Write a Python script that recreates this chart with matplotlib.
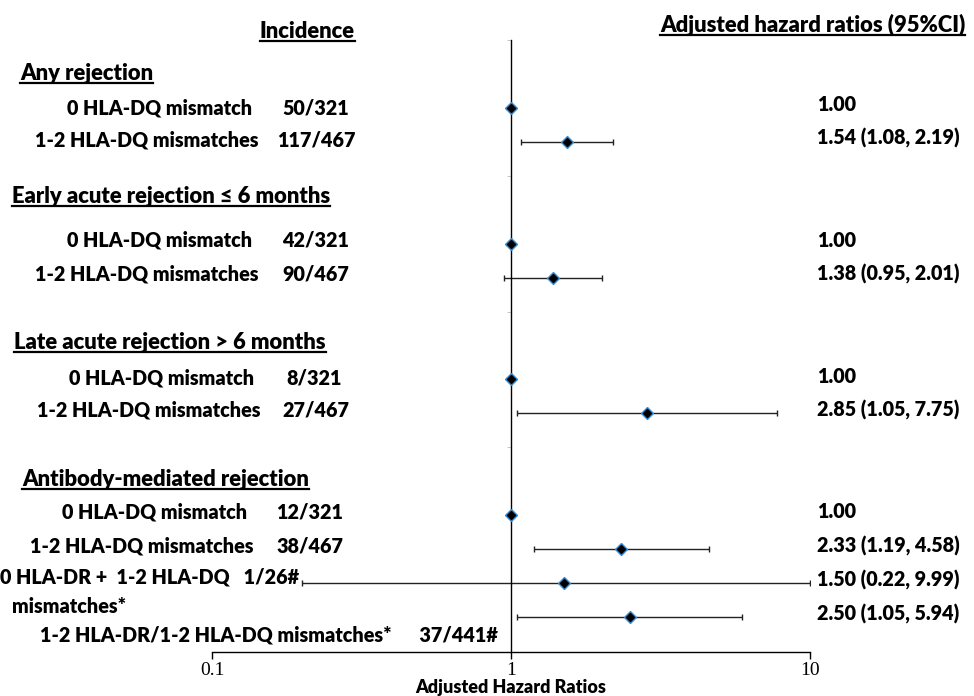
import matplotlib
matplotlib.use("Agg")
import matplotlib.pyplot as plt
import matplotlib.transforms as mtransforms
from matplotlib.lines import Line2D

W, H = 974, 696

# groups and rows of the forest plot
sections = ["Any rejection",
            "Early acute rejection \u2264 6 months",
            "Late acute rejection > 6 months",
            "Antibody-mediated rejection"]
section_rows = [-1.0, 2.6, 6.9, 10.95]

rows = [0, 1, 4, 5, 8, 9, 12, 13, 14, 15]
labels = ["0 HLA-DQ mismatch", "1-2 HLA-DQ mismatches",
          "0 HLA-DQ mismatch", "1-2 HLA-DQ mismatches",
          "0 HLA-DQ mismatch", "1-2 HLA-DQ mismatches",
          "0 HLA-DQ mismatch", "1-2 HLA-DQ mismatches",
          "0 HLA-DR +  1-2 HLA-DQ   1/26#\nmismatches*",
          "1-2 HLA-DR/1-2 HLA-DQ mismatches*      37/441#"]
incidence = ["50/321", "117/467", "42/321", "90/467", "8/321", "27/467",
             "12/321", "38/467", "", ""]
hr = [1.00, 1.54, 1.00, 1.38, 1.00, 2.85, 1.00, 2.33, 1.50, 2.50]
ci_lo = [1.00, 1.08, 1.00, 0.95, 1.00, 1.05, 1.00, 1.19, 0.20, 1.05]
ci_hi = [1.00, 2.19, 1.00, 2.01, 1.00, 7.75, 1.00, 4.58, 9.99, 5.94]
hr_text = ["1.00", "1.54 (1.08, 2.19)", "1.00", "1.38 (0.95, 2.01)",
           "1.00", "2.85 (1.05, 7.75)", "1.00", "2.33 (1.19, 4.58)",
           "1.50 (0.22, 9.99)", "2.50 (1.05, 5.94)"]

# text layout (left x in px, vertical offset in rows)
label_x = [67, 35, 67, 35, 69, 37, 62, 30, 0, 40]
label_dy = [0, -0.05, -0.1, -0.12, -0.05, -0.1, -0.1, -0.1, 0.25, 0.53]
inc_x = [316, 316, 316, 316, 314, 316, 310, 310, 310, 310]
section_x = [20, 12, 14, 22]

SANS = "Lato"
WEIGHT = "heavy"
fig = plt.figure(figsize=(W / 100, H / 100), dpi=100)
ax = fig.add_axes([212 / W, 44 / H, 598 / W, 612 / H])

ax.set_xscale("log")
ax.set_xlim(0.1, 10)
ax.set_ylim(16.03, -1.97)

err = [[h - l for h, l in zip(hr, ci_lo)], [u - h for h, u in zip(hr, ci_hi)]]
ax.errorbar(hr, rows, xerr=err, fmt="none", ecolor="#222222",
            elinewidth=1.0, capsize=2.5, capthick=1.0, zorder=2)
ax.plot(hr, rows, linestyle="none", marker="D", markersize=6.5,
        markerfacecolor="black", markeredgecolor="#3a8fd6",
        markeredgewidth=1.0, zorder=3)

for side in ["top", "right"]:
    ax.spines[side].set_visible(False)
ax.spines["left"].set_position(("data", 1))
ax.spines["left"].set_linewidth(1.0)
ax.spines["bottom"].set_linewidth(1.0)
ax.set_yticks([-2, 2, 6, 10, 14])
ax.tick_params(axis="y", length=3, width=0.6, color="#bbbbbb",
               labelleft=False)
ax.set_xticks([0.1, 1, 10])
ax.set_xticklabels(["0.1", "1", "10"])
ax.minorticks_off()
ax.tick_params(axis="x", length=5, width=1.0, direction="out", pad=2,
               labelsize=14)
for t in ax.get_xticklabels():
    t.set_fontfamily("Liberation Serif")

trans = mtransforms.blended_transform_factory(fig.transFigure, ax.transData)
bold = dict(fontfamily=SANS, fontweight=WEIGHT, color="black")
underlined = []

for name, r, x in zip(sections, section_rows, section_x):
    t = ax.text(x / W, r, name, transform=trans, ha="left", va="center",
                fontsize=15.8, **bold)
    underlined.append(t)

for i, r in enumerate(rows):
    y = r + label_dy[i]
    if "\n" in labels[i]:
        first, second = labels[i].split("\n")
        ax.text(label_x[i] / W, r - 0.18, first, transform=trans,
                ha="left", va="center", fontsize=14.2, **bold)
        ax.text(12 / W, r + 0.7, second, transform=trans,
                ha="left", va="center", fontsize=14.2, **bold)
    else:
        ax.text(label_x[i] / W, y, labels[i], transform=trans,
                ha="left", va="center", fontsize=14.2, **bold)
    if incidence[i]:
        ax.text(inc_x[i] / W, y, incidence[i], transform=trans,
                ha="center", va="center", fontsize=14.2, **bold)
    ax.text(817 / W, r - 0.1, hr_text[i], transform=trans,
            ha="left", va="center", fontsize=14.2, **bold)

underlined.append(fig.text(307 / W, 1 - 31 / H, "Incidence", ha="center",
                           va="center", fontsize=15.8, **bold))
underlined.append(fig.text(660 / W, 1 - 25 / H,
                           "Adjusted hazard ratios (95%CI)", ha="left",
                           va="center", fontsize=15.8, **bold))
fig.text(511 / W, 1 - 688 / H, "Adjusted Hazard Ratios", ha="center",
         va="center", fontsize=13, **bold)

# underline the headers
fig.canvas.draw()
renderer = fig.canvas.get_renderer()
for t in underlined:
    bb = t.get_window_extent(renderer)
    y = (bb.y0 + 1) / H
    fig.add_artist(Line2D([bb.x0 / W, bb.x1 / W], [y, y],
                          transform=fig.transFigure, color="black",
                          linewidth=1.6))

fig.savefig("out.png", dpi=100)
